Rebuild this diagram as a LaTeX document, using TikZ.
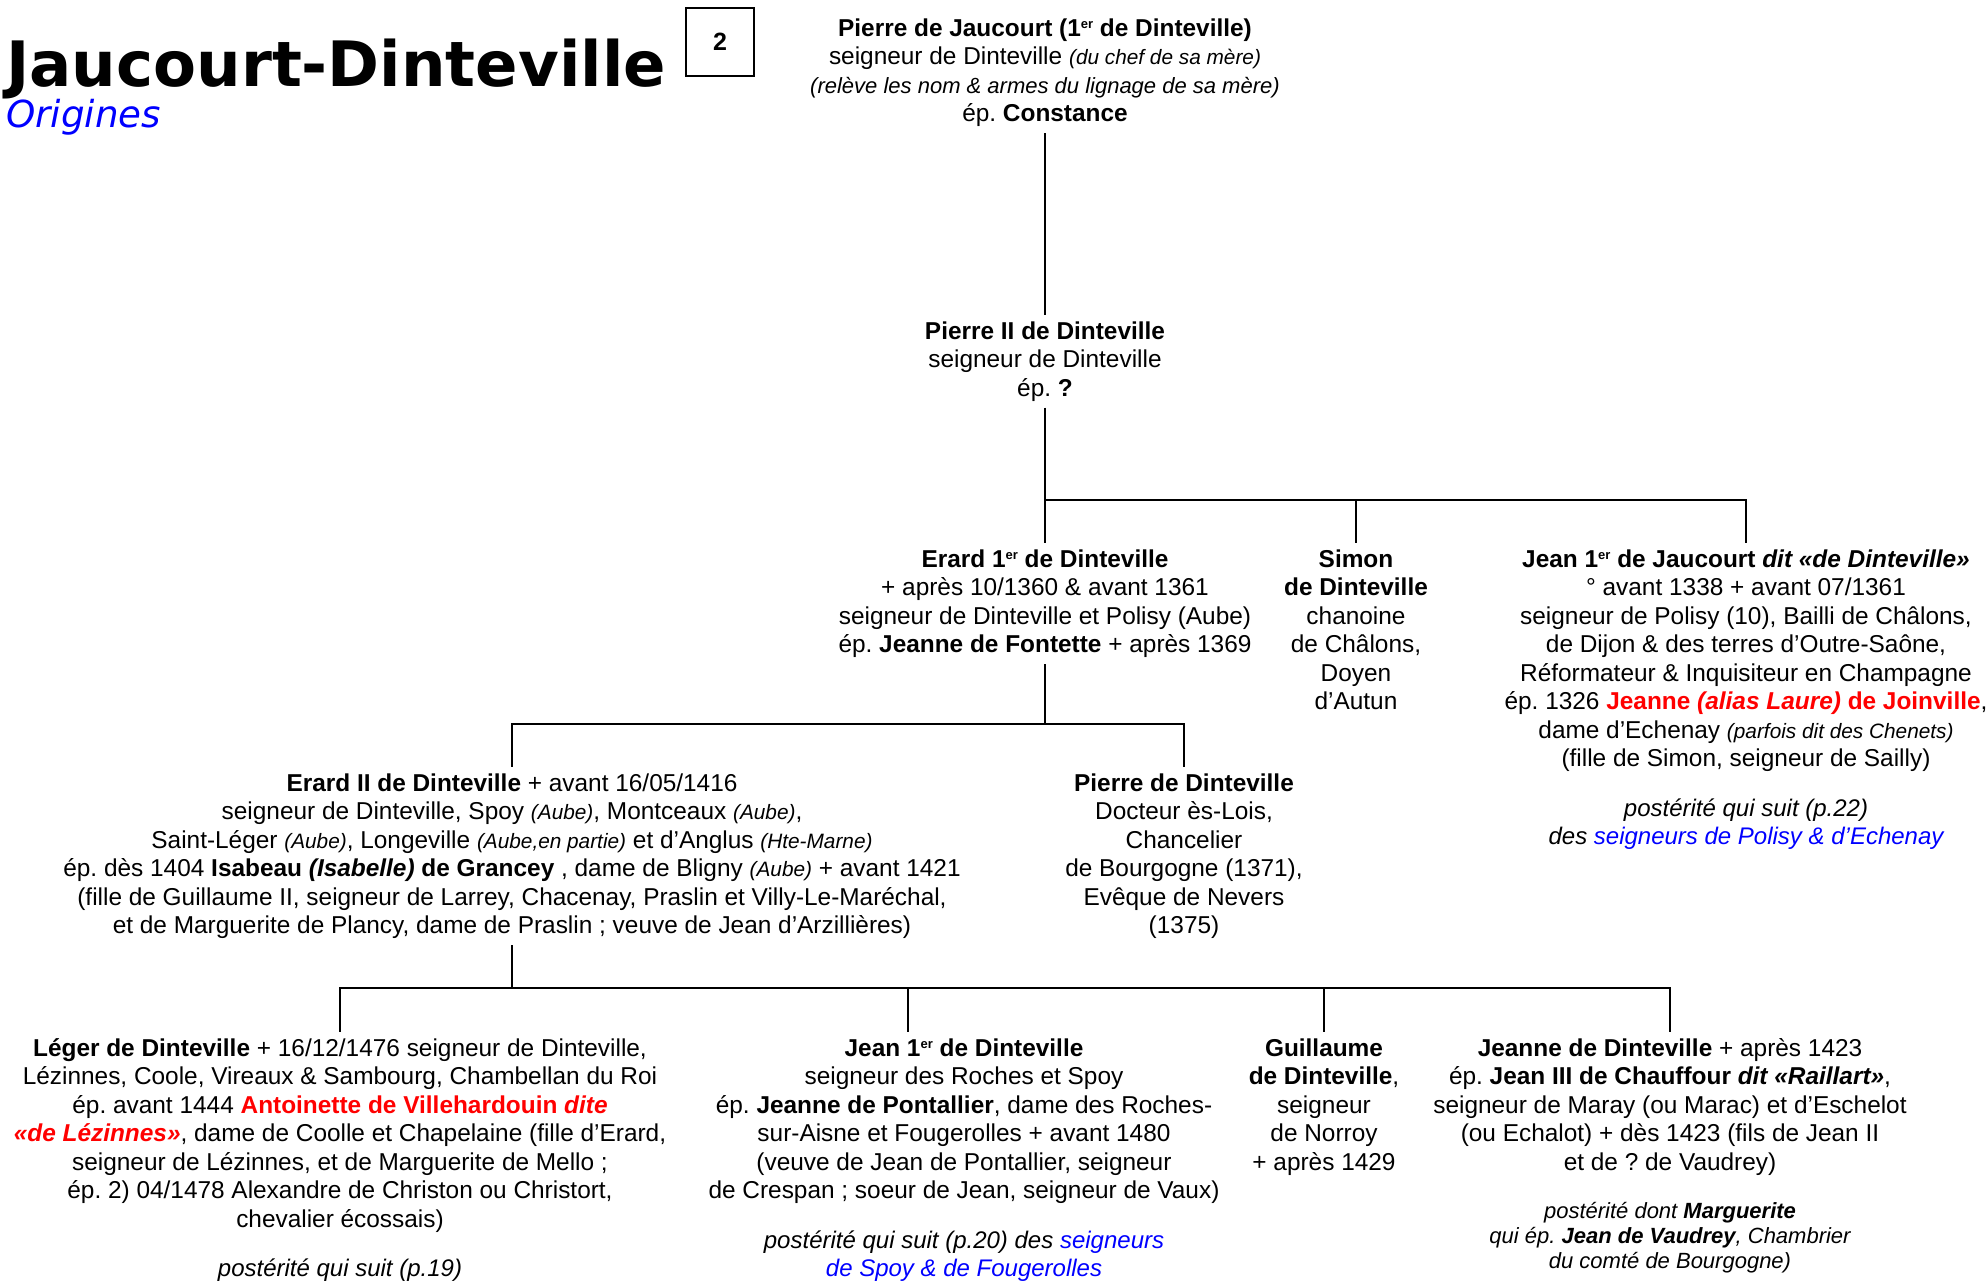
\documentclass[tikz,border=0pt]{standalone}
\usepackage{fontspec}
\setmainfont{Liberation Sans}
\newfontfamily\titlefont{DejaVu Sans}
\usetikzlibrary{positioning}
\frenchspacing
\definecolor{namered}{RGB}{255,0,0}
\definecolor{linkblue}{RGB}{0,0,255}
\newcommand{\aside}[1]{{\itshape\fontsize{10.4}{14.25}\selectfont #1}}
\newcommand{\er}{\raisebox{0.6ex}{\fontsize{6.5}{7}\selectfont er}}

\tikzset{
  person/.style = {align=center, inner sep=3pt, font=\fontsize{12.2}{14.25}\selectfont},
  posterite/.style = {align=center, inner sep=0pt, font=\itshape\fontsize{12}{14.25}\selectfont},
  link/.style = {line width=1pt}
}

\begin{document}
\begin{tikzpicture}[x=0.5pt, y=-0.5pt]
    \useasboundingbox (0,0) rectangle (1988,1281);
    % title
    \node[anchor=base west, inner sep=0, font=\titlefont\bfseries\fontsize{31.3}{36}\selectfont] (title) at (6,86) {Jaucourt-Dinteville};
    \node[anchor=base west, inner sep=0, text=linkblue, font=\titlefont\itshape\fontsize{18.6}{22}\selectfont] (orig) at (6,127) {Origines};
    \node[draw, line width=0.6pt, minimum width=34pt, minimum height=34pt, font=\bfseries\fontsize{12.5}{14}\selectfont] (page) at (720,42) {2};

    % generation 1 and 2
    \node[person, anchor=north] (pj) at (1045,12) {\textbf{Pierre de Jaucourt (1\er{} de Dinteville)}\\
        seigneur de Dinteville \aside{(du chef de sa mère)}\\
        {\itshape\fontsize{11}{14.25}\selectfont (relève les nom \& armes du lignage de sa mère)}\\
        ép. \textbf{Constance}};
    \node[person, anchor=north] (p2) at (1045,315) {\textbf{Pierre II de Dinteville}\\ seigneur de Dinteville\\ ép. \textbf{?}};

    % generation 3
    \node[person, anchor=north] (e1) at (1045,543) {\textbf{Erard 1\er{} de Dinteville}\\
        + après 10/1360 \& avant 1361\\
        seigneur de Dinteville et Polisy (Aube)\\
        ép. \textbf{Jeanne de Fontette} + après 1369};
    \node[person, anchor=north] (simon) at (1356,543) {\textbf{Simon}\\ \textbf{de Dinteville}\\ chanoine\\ de Châlons,\\ Doyen\\ d’Autun};
    \node[person, anchor=north] (jj) at (1746,543) {\textbf{Jean 1\er{} de Jaucourt \textit{dit «de Dinteville»}}\\
        ° avant 1338 + avant 07/1361\\
        seigneur de Polisy (10), Bailli de Châlons,\\
        de Dijon \& des terres d’Outre-Saône,\\
        Réformateur \& Inquisiteur en Champagne\\
        ép. 1326 \textcolor{namered}{\textbf{Jeanne \textit{(alias Laure)} de Joinville}},\\
        dame d’Echenay \aside{(parfois dit des Chenets)}\\
        (fille de Simon, seigneur de Sailly)};
    \node[posterite, below=10pt of jj] (jjpost) {postérité qui suit (p.22)\\ des \textcolor{linkblue}{seigneurs de Polisy \& d’Echenay}};

    % generation 4
    \node[person, anchor=north] (e2) at (512,767) {\textbf{Erard II de Dinteville} + avant 16/05/1416\\
        seigneur de Dinteville, Spoy \aside{(Aube)}, Montceaux \aside{(Aube)},\\
        Saint-Léger \aside{(Aube)}, Longeville \aside{(Aube,en partie)} et d’Anglus \aside{(Hte-Marne)}\\
        ép. dès 1404 \textbf{Isabeau \textit{(Isabelle)} de Grancey} , dame de Bligny \aside{(Aube)} + avant 1421\\
        (fille de Guillaume II, seigneur de Larrey, Chacenay, Praslin et Villy-Le-Maréchal,\\
        et de Marguerite de Plancy, dame de Praslin ; veuve de Jean d’Arzillières)};
    \node[person, anchor=north] (pd) at (1184,767) {\textbf{Pierre de Dinteville}\\ Docteur ès-Lois,\\ Chancelier\\ de Bourgogne (1371),\\ Evêque de Nevers\\ (1375)};

    % generation 5
    \node[person, anchor=north] (lg) at (340,1032) {\textbf{Léger de Dinteville} + 16/12/1476 seigneur de Dinteville,\\
        Lézinnes, Coole, Vireaux \& Sambourg, Chambellan du Roi\\
        ép. avant 1444 \textcolor{namered}{\textbf{Antoinette de Villehardouin \textit{dite}}}\\
        \textcolor{namered}{\textbf{\textit{«de Lézinnes»}}}, dame de Coolle et Chapelaine (fille d’Erard,\\
        seigneur de Lézinnes, et de Marguerite de Mello ;\\
        ép. 2) 04/1478 Alexandre de Christon ou Christort,\\
        chevalier écossais)};
    \node[posterite, below=10pt of lg] (lgpost) {postérité qui suit (p.19)};
    \node[person, anchor=north] (jd) at (964,1032) {\textbf{Jean 1\er{} de Dinteville}\\
        seigneur des Roches et Spoy\\
        ép. \textbf{Jeanne de Pontallier}, dame des Roches-\\
        sur-Aisne et Fougerolles + avant 1480\\
        (veuve de Jean de Pontallier, seigneur\\
        de Crespan ; soeur de Jean, seigneur de Vaux)};
    \node[posterite, below=10pt of jd] (jdpost) {postérité qui suit (p.20) des \textcolor{linkblue}{seigneurs}\\ \textcolor{linkblue}{de Spoy \& de Fougerolles}};
    \node[person, anchor=north] (gu) at (1324,1032) {\textbf{Guillaume}\\ \textbf{de Dinteville},\\ seigneur\\ de Norroy\\ + après 1429};
    \node[person, anchor=north] (jn) at (1670,1032) {\textbf{Jeanne de Dinteville} + après 1423\\
        ép. \textbf{Jean III de Chauffour \textit{dit «Raillart»}},\\
        seigneur de Maray (ou Marac) et d’Eschelot\\
        (ou Echalot) + dès 1423 (fils de Jean II\\
        et de ? de Vaudrey)};
    \node[posterite, below=10pt of jn, font=\itshape\fontsize{11}{12.6}\selectfont] (jnpost) {postérité dont \textbf{Marguerite}\\ qui ép. \textbf{Jean de Vaudrey}, Chambrier\\ du comté de Bourgogne)};

    % connectors
    \coordinate (b1) at (1045,500);
    \coordinate (b2) at (1045,724);
    \coordinate (b3) at (512,988);
    \draw[link] (pj) -- (p2);
    \draw[link] (p2) -- (b1) -| (jj);
    \draw[link] (b1) -| (simon);
    \draw[link] (b1) -- (e1);
    \draw[link] (e1) -- (b2) -| (e2);
    \draw[link] (b2) -| (pd);
    \draw[link] (e2) -- (b3) -| (lg);
    \draw[link] (b3) -| (jn);
    \draw[link] (b3) -| (gu);
    \draw[link] (b3) -| ([xshift=-28pt]jd.north);
\end{tikzpicture}
\end{document}
